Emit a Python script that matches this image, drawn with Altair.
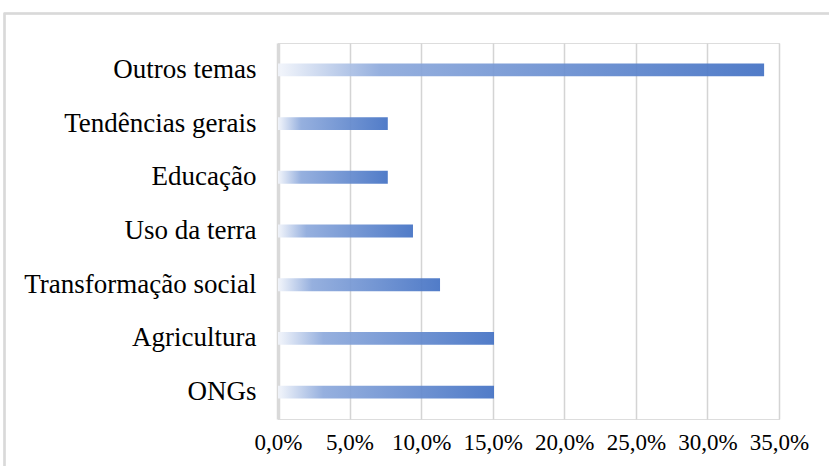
import altair as alt
import pandas as pd

categories = ["Outros temas", "Tendências gerais", "Educação", "Uso da terra",
              "Transformação social", "Agricultura", "ONGs"]
values = [0.3396, 0.0767, 0.0767, 0.0943, 0.1132, 0.1509, 0.1509]
x_ticks = [0, 0.05, 0.10, 0.15, 0.20, 0.25, 0.30, 0.35]

df = pd.DataFrame({"tema": categories, "pct": values})

W, H = 501, 376
FONT = "Liberation Serif"

gradient = alt.Gradient(
    gradient="linear",
    x1=0, x2=1, y1=0, y2=0,
    stops=[
        alt.GradientStop(color="#f2f5fb", offset=0),
        alt.GradientStop(color="#8eaadc", offset=0.21),
        alt.GradientStop(color="#4472c4", offset=1),
    ],
)

frame = alt.Chart(df).mark_rect(
    fill="transparent", stroke="#d9d9d9", strokeWidth=1.5, clip=False
).encode(
    x=alt.value(-273.5), x2=alt.value(W + 200),
    y=alt.value(-29.5), y2=alt.value(H + 200),
)

bars = alt.Chart(df).mark_bar(color=gradient, opacity=0.93).encode(
    y=alt.Y("tema:N", sort=categories,
            scale=alt.Scale(paddingInner=0.76, paddingOuter=0.38),
            axis=alt.Axis(title=None, ticks=False, labelFont=FONT, labelFontSize=27,
                          labelColor="#000000", labelPadding=22, grid=False,
                          labelLimit=0, labelOverlap=False,
                          domain=True, domainColor="#d9d9d9", domainWidth=3.5)),
    x=alt.X("pct:Q", scale=alt.Scale(domain=[0, 0.35], nice=False),
            axis=alt.Axis(title=None, values=x_ticks, ticks=False, domain=False,
                          grid=True, gridColor="#d4d4d4", gridWidth=1.5,
                          labelFont=FONT, labelFontSize=23, labelColor="#000000",
                          labelPadding=12, labelOverlap=False, labelLimit=0,
                          labelFlush=False,
                          labelExpr="replace(format(datum.value, '.1%'), '.', ',')")),
)

chart = alt.layer(frame, bars).properties(
    width=W, height=H,
    autosize=alt.AutoSizeParams(type="none"),
    padding={"left": 278, "top": 43, "right": 50, "bottom": 47},
).configure_view(stroke=None).configure(background="white")

chart.save("out.html", embed_options={"renderer": "svg", "actions": False})
